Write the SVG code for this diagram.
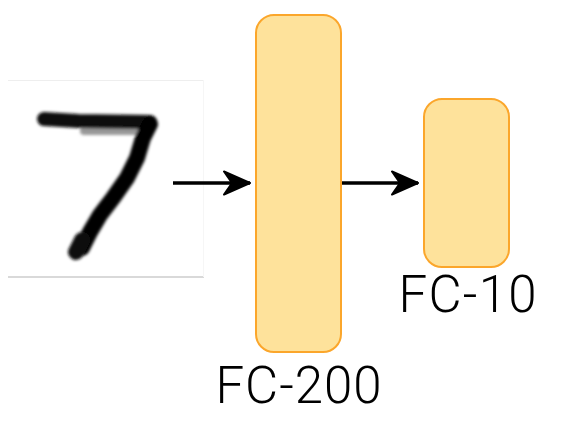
<svg xmlns="http://www.w3.org/2000/svg" width="564" height="428" viewBox="0 0 564 428">
<defs>
<style>
.box{fill:#fee29b;stroke:#fba62b;stroke-width:2}
.lbl{font-family:Roboto,"Liberation Sans",Arial,sans-serif;font-weight:300;font-size:51px;fill:#000;text-anchor:middle}
.edge{stroke:#000;stroke-width:3.5;fill:none}
</style>
<marker id="ah" markerWidth="32" markerHeight="30" refX="27" refY="13" orient="auto" markerUnits="userSpaceOnUse">
<path d="M1,1.5 L27,13 L1,24.5 L9,13 Z" fill="#000" stroke="#000" stroke-width="2" stroke-linejoin="round"/>
</marker>
<filter id="blur" x="-10%" y="-10%" width="120%" height="120%">
<feGaussianBlur stdDeviation="1.5"/>
</filter>
</defs>
<g id="input">
<rect x="8" y="80" width="196" height="197" fill="#fff"/>
<line x1="8" y1="80.5" x2="204" y2="80.5" stroke="#eeeeee" stroke-width="1"/>
<line x1="8" y1="277" x2="204" y2="277" stroke="#cccccc" stroke-width="1.5"/>
<line x1="203.5" y1="80" x2="203.5" y2="277" stroke="#f6f6f6" stroke-width="1"/>
<g filter="url(#blur)" stroke-linecap="round" stroke-linejoin="round" fill="none">
<path d="M84,131 L150,131" stroke="#999" stroke-width="8"/>
<path d="M44,119 L78,121 L150,122" stroke="#111" stroke-width="14"/>
<path d="M150,124 L143,138 L137,158 L127,178 L113,198 L100,215 L90,232 L82,248" stroke="#000" stroke-width="16"/>
<path d="M82,240 L76,252" stroke="#111" stroke-width="16"/>
</g>
</g>
<g id="connectors">
<line class="edge" x1="173" y1="183" x2="250" y2="183" marker-end="url(#ah)"/>
<line class="edge" x1="342" y1="183" x2="418" y2="183" marker-end="url(#ah)"/>
</g>
<g id="fc200">
<rect class="box" x="256" y="15" width="85" height="337" rx="18" ry="18"/>
<text class="lbl" x="298.5" y="403" textLength="166" lengthAdjust="spacing">FC-200</text>
</g>
<g id="fc10">
<rect class="box" x="424" y="99" width="85" height="168" rx="18" ry="18"/>
<text class="lbl" x="467.5" y="312" textLength="138" lengthAdjust="spacing">FC-10</text>
</g>
</svg>
